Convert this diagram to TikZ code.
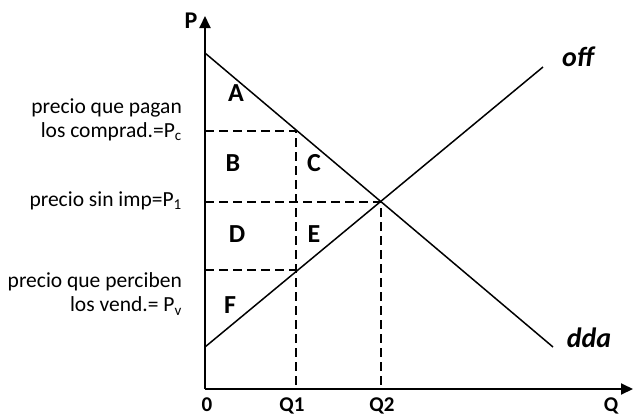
\documentclass[tikz,border=0pt]{standalone}
\usepackage{fontspec}
\setmainfont{Carlito}
\usetikzlibrary{arrows.meta,positioning}

\begin{document}
\begin{tikzpicture}[x=1pt,y=-1pt,
    axis/.style={line width=2pt,-{Triangle[length=12pt,width=11pt]}},
    curve/.style={line width=1.5pt},
    guide/.style={line width=2pt,dash pattern=on 9pt off 5pt},
    region/.style={font=\fontsize{26}{28}\selectfont\bfseries},
    axlabel/.style={font=\fontsize{21}{24}\selectfont\bfseries,anchor=base,inner sep=0pt},
    curvelabel/.style={font=\fontsize{28}{30}\selectfont\bfseries\itshape},
    lbl/.style={font=\fontsize{21.5}{24}\selectfont,align=right,anchor=east,inner sep=1pt}]

    \useasboundingbox (0,0) rectangle (633,416);

    % ── ejes ─────────────────────────────────────────
    \coordinate (O) at (205,389);
    \coordinate (Ptop) at (205,16);
    \coordinate (Qend) at (633,389);
    \draw[axis] (O) -- (Ptop);
    \draw[axis] (O) -- (Qend);
    \node[font=\fontsize{24}{26}\selectfont\bfseries] (P) at (191,21) {P};
    \node[axlabel] (l0) at (207,411) {0};
    \node[axlabel] (lq1) at (292,411) {Q1};
    \node[axlabel] (lq2) at (382,411) {Q2};
    \node[axlabel] (lq) at (611,411) {Q};

    % ── oferta y demanda ─────────────────────────────
    \coordinate (d1) at (205,53);
    \coordinate (d2) at (553,347);
    \coordinate (s1) at (205,347);
    \coordinate (s2) at (543,67);
    \draw[curve] (d1) -- (d2);
    \draw[curve] (s1) -- (s2);
    \node[curvelabel] (off) at (578,57) {off};
    \node[curvelabel] (dda) at (589,338) {dda};

    % ── guias ────────────────────────────────────────
    \coordinate (pc) at (205,131);
    \coordinate (p1) at (205,202);
    \coordinate (pv) at (205,270);
    \coordinate (dq1) at (296,131);
    \coordinate (sq1) at (296,270);
    \coordinate (eq) at (381,202);
    \coordinate (q1) at (296,389);
    \coordinate (q2) at (381,389);
    \draw[guide] (pc) -- (dq1) -- (q1);
    \draw[guide] (p1) -- (eq) -- (q2);
    \draw[guide] (pv) -- (sq1);

    % areas
    \foreach \n/\x/\y in {A/236/93,B/233/163,C/314/163,D/237/234,E/314/234,F/230/305}{
      \node[region] (r\n) at (\x,\y) {\n};
    }

    % ── precios ──────────────────────────────────────
    \node[lbl] (lpc) at (183,120) {precio que pagan\\los comprad.=P\textsubscript{c}};
    \node[lbl] (lp1) at (183,201) {precio sin imp=P\textsubscript{1}};
    \node[lbl] (lpv) at (183,294) {precio que perciben\\los vend.= P\textsubscript{v}};

\end{tikzpicture}
\end{document}
